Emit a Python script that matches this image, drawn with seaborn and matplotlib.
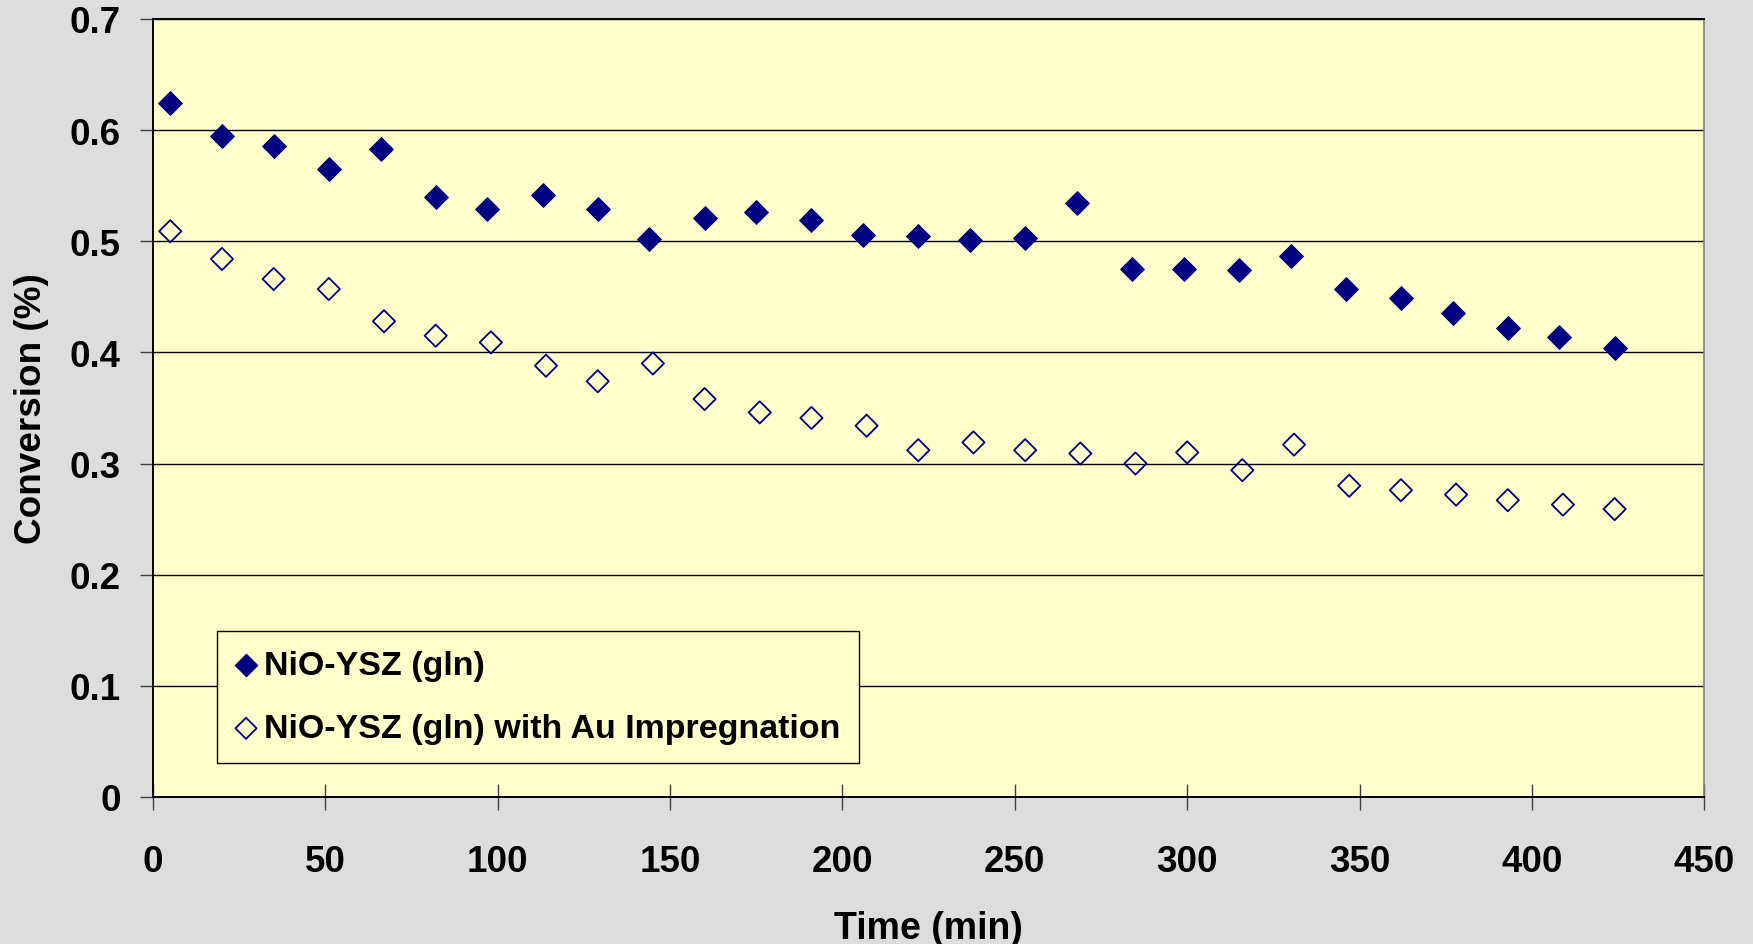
import matplotlib
matplotlib.use("Agg")
import matplotlib.pyplot as plt
import seaborn as sns
import pandas as pd

# Sampling times (min) and measured conversion for each anode
time_plain = [5, 20, 35, 51, 66, 82, 97, 113, 129, 144, 160, 175, 191, 206,
              222, 237, 253, 268, 284, 299, 315, 330, 346, 362, 377, 393, 408, 424]
conv_plain = [0.624, 0.595, 0.586, 0.565, 0.583, 0.540, 0.529, 0.542, 0.529, 0.502,
              0.521, 0.526, 0.519, 0.506, 0.505, 0.501, 0.503, 0.534, 0.475, 0.475,
              0.474, 0.487, 0.457, 0.449, 0.435, 0.422, 0.414, 0.404]

time_au = [5, 20, 35, 51, 67, 82, 98, 114, 129, 145, 160, 176, 191, 207,
           222, 238, 253, 269, 285, 300, 316, 331, 347, 362, 378, 393, 409, 424]
conv_au = [0.509, 0.484, 0.466, 0.457, 0.428, 0.415, 0.409, 0.388, 0.374, 0.390,
           0.358, 0.346, 0.341, 0.334, 0.312, 0.319, 0.312, 0.309, 0.300, 0.310,
           0.294, 0.317, 0.280, 0.276, 0.272, 0.267, 0.263, 0.259]

label_plain = "NiO-YSZ (gln)"
label_au = "NiO-YSZ (gln) with Au Impregnation"

x_ticks = [0, 50, 100, 150, 200, 250, 300, 350, 400, 450]
y_ticks = [0, 0.1, 0.2, 0.3, 0.4, 0.5, 0.6, 0.7]
y_tick_labels = ["0", "0.1", "0.2", "0.3", "0.4", "0.5", "0.6", "0.7"]

df_plain = pd.DataFrame({"Time": time_plain, "Conversion": conv_plain})
df_au = pd.DataFrame({"Time": time_au, "Conversion": conv_au})

sns.set_style("white")
plt.rcParams["font.family"] = ["Liberation Sans", "DejaVu Sans"]
plt.rcParams["font.weight"] = "bold"
plt.rcParams["text.color"] = "black"
plt.rcParams["axes.labelcolor"] = "black"

navy = "#000080"
fig = plt.figure(figsize=(17.53, 9.45), dpi=100, facecolor="#DDDDDD")
ax = fig.add_axes([0.0873, 0.1556, 0.8849, 0.8233])
ax.set_facecolor("#FFFFCC")

for y in y_ticks[1:]:
    ax.axhline(y, color="black", lw=1.0, zorder=1)

sns.scatterplot(data=df_plain, x="Time", y="Conversion", ax=ax, marker="D",
                s=145, color=navy, edgecolor=navy, linewidth=0.8,
                label=label_plain, zorder=3)
sns.scatterplot(data=df_au, x="Time", y="Conversion", ax=ax, marker="D",
                s=128, facecolor="none", edgecolor=navy, linewidth=1.3,
                label=label_au, zorder=3)

ax.set_xlim(0, 450)
ax.set_ylim(0, 0.7)
ax.set_xticks(x_ticks)
ax.set_xticklabels([str(t) for t in x_ticks])
ax.set_yticks(y_ticks)
ax.set_yticklabels(y_tick_labels)

ax.tick_params(axis="x", direction="inout", length=18.7, width=1.0, color="#404040",
               pad=24.5, labelsize=26.5, labelcolor="black", bottom=True)
ax.tick_params(axis="y", direction="out", length=9.4, width=1.0, color="#404040",
               pad=14, labelsize=26.5, labelcolor="black", left=True)
for lab in ax.get_xticklabels() + ax.get_yticklabels():
    lab.set_fontweight("bold")

for side in ["left", "bottom", "top"]:
    ax.spines[side].set_color("black")
    ax.spines[side].set_linewidth(1.4)
ax.spines["right"].set_color("#808080")
ax.spines["right"].set_linewidth(1.2)

ax.set_xlabel("Time (min)", fontsize=27, fontweight="bold", labelpad=22)
ax.set_ylabel("Conversion (%)", fontsize=26.6, fontweight="bold", labelpad=15)

leg = ax.legend(loc="lower left", bbox_to_anchor=(0.0413, 0.0437), borderaxespad=0,
                frameon=True, fancybox=False, edgecolor="black", facecolor="#FFFFCC",
                framealpha=1, prop={"size": 24.5, "weight": "bold"},
                handlelength=0.6, handletextpad=0.22, borderpad=0.55,
                labelspacing=0.95, markerscale=0.95)
leg.get_frame().set_linewidth(1.0)

fig.savefig("out.png", dpi=100, facecolor=fig.get_facecolor())
